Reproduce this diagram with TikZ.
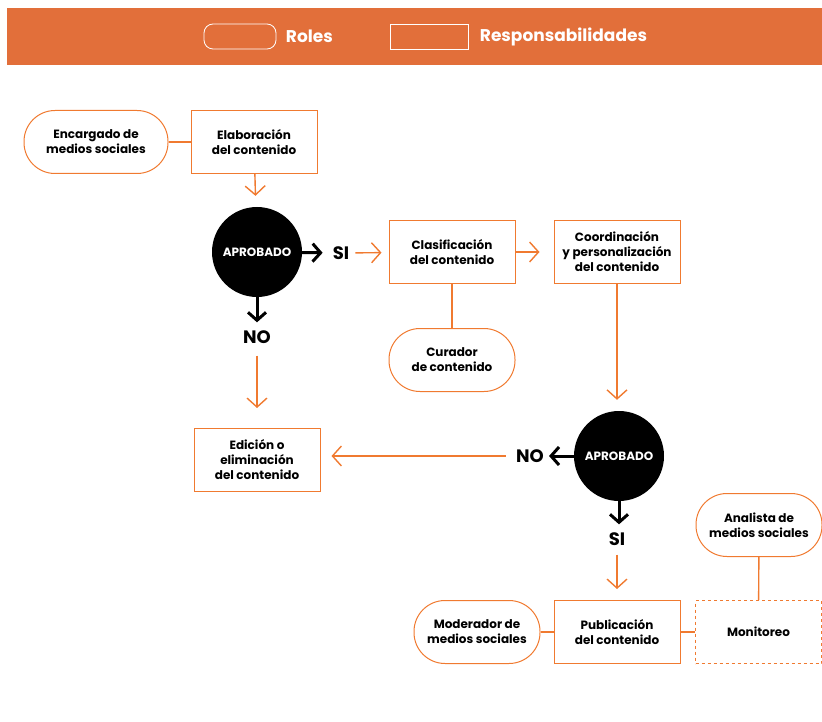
\documentclass[tikz,border=0pt]{standalone}
\usepackage{fontspec}
\setmainfont{Poppins}
\usetikzlibrary{arrows.meta}
\definecolor{NaranjaBanda}{RGB}{226,111,58}
\definecolor{Naranja}{RGB}{240,122,48}

\begin{document}
\begin{tikzpicture}[x=1pt, y=-1pt,
  flecha/.style={draw=Naranja, line width=1.4pt, -{Straight Barb[length=9pt,width=20pt]}},
  flechaN/.style={draw=black, line width=3pt, -{Straight Barb[length=8pt,width=18pt]}},
  enlace/.style={draw=Naranja, line width=1.4pt},
  caja/.style={minimum width=126pt, minimum height=63pt, align=center, line width=1pt,
    font=\fontsize{12}{15}\selectfont\bfseries},
  rol/.style={caja, draw=Naranja, rounded corners=31pt},
  tarea/.style={caja, draw=Naranja},
  decision/.style={circle, fill=black, minimum size=90pt, inner sep=0pt, text=white,
    font=\fontsize{12}{14}\selectfont\bfseries},
  respuesta/.style={inner sep=0pt, font=\fontsize{18}{20}\selectfont\bfseries},
  leyenda/.style={draw=white, line width=0.8pt, minimum width=72pt, minimum height=25pt},
  blanco/.style={text=white, font=\fontsize{17}{19}\selectfont\bfseries}]
\useasboundingbox (0,0) rectangle (822,722);
\fill[NaranjaBanda] (7,8) rectangle (822,65);
\node[leyenda, rounded corners=9pt, label={[blanco, label distance=6pt]right:Roles}] (leyrol) at (240,36.5) {};
\node[leyenda, minimum width=78pt, label={[blanco, label distance=8pt]right:Responsabilidades}] (leyresp) at (429,36.5) {};

\node[rol, minimum width=144pt] (encargado) at (96,142) {Encargado de\\medios sociales};
\node[tarea] (elab) at (254,142) {Elaboración\\del contenido};
\node[decision] (aprob1) at (257,252) {APROBADO};
\node[respuesta] (si1) at (341,253) {SI};
\node[respuesta] (no1) at (257,337) {NO};
\node[tarea] (clasif) at (452,252) {Clasificación\\del contenido};
\node[rol] (curador) at (452,360) {Curador\\de contenido};
\node[tarea] (coord) at (617,252) {Coordinación\\y personalización\\del contenido};
\node[decision] (aprob2) at (619,456) {APROBADO};
\node[respuesta] (no2) at (530,456) {NO};
\node[respuesta] (si2) at (617,539) {SI};
\node[tarea] (edicion) at (257,460) {Edición o\\eliminación\\del contenido};
\node[tarea] (publ) at (617,632) {Publicación\\del contenido};
\node[rol] (moderador) at (477,632) {Moderador de\\medios sociales};
\node[tarea, dashed] (monit) at (758.5,632) {Monitoreo};
\node[rol] (analista) at (759,525) {Analista de\\medios sociales};

\draw[enlace] (encargado) -- (elab);
\draw[enlace] (clasif) -- (curador);
\draw[enlace] (moderador) -- (publ);
\draw[enlace] (publ) -- (monit);
\draw[enlace] (analista) -- (monit);

\draw[flecha, shorten >=11pt] (elab) -- (aprob1);
\draw[flechaN, shorten >=10pt] (aprob1) -- (si1);
\draw[flecha, shorten <=6pt, shorten >=7pt] (si1) -- (clasif);
\draw[flecha, shorten >=14pt] (clasif) -- (coord);
\draw[flecha, shorten >=11pt] (coord.south) -- (coord.south |- aprob2.north);
\draw[flechaN, shorten >=8pt] (aprob1) -- (no1);
\draw[flecha, shorten <=12pt, shorten >=20pt] (no1) -- (edicion);
\draw[flechaN, shorten >=5pt] (aprob2) -- (no2);
\draw[flecha, shorten <=10pt, shorten >=11pt] (no2) -- (no2 -| edicion.east);
\draw[flechaN, shorten >=8pt] (aprob2.south) -- (aprob2.south |- si2.north);
\draw[flecha, shorten <=9pt, shorten >=11pt] (si2) -- (publ);
\end{tikzpicture}
\end{document}
